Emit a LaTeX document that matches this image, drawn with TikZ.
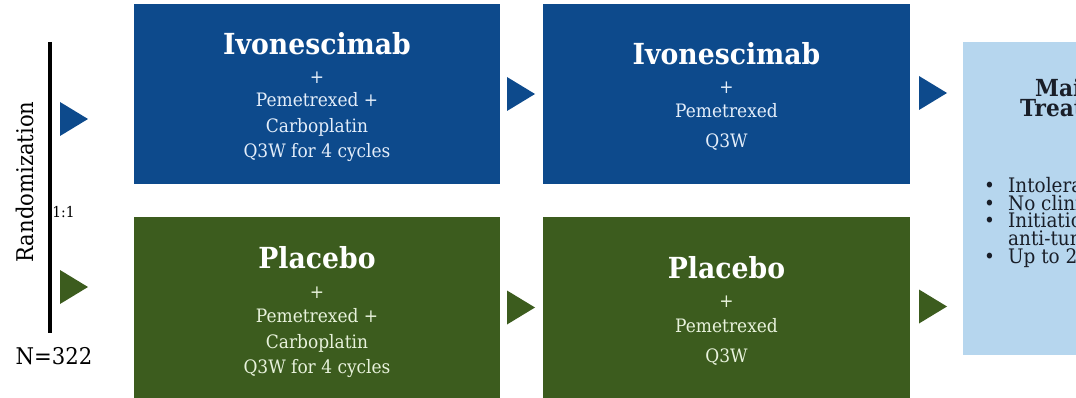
\documentclass[tikz,border=0pt]{standalone}
\usepackage{fontspec}
\setmainfont{DejaVu Serif}[FakeStretch=0.92]
\usetikzlibrary{calc}
\definecolor{ivblue}{RGB}{13,74,140}
\definecolor{ivgreen}{RGB}{60,92,30}
\definecolor{ltblue}{RGB}{182,214,238}
\definecolor{bodyB}{RGB}{228,238,250}
\definecolor{bodyG}{RGB}{232,242,220}
\definecolor{darktext}{RGB}{25,30,40}
\newcommand\armtri[2]{\fill[#1] ($(#2)+(0,-17)$) -- ($(#2)+(28,0)$) -- ($(#2)+(0,17)$) -- cycle;}
\begin{document}
\begin{tikzpicture}[x=1pt,y=-1pt,
  armbox/.style={minimum width=#1, inner sep=0pt, outer sep=0pt, anchor=north west},
  ttl/.style={font=\bfseries\fontsize{29}{32}\selectfont, text=white, anchor=base, inner sep=0pt},
  bodyb/.style={font=\fontsize{18.5}{20}\selectfont, text=bodyB, anchor=base, inner sep=0pt},
  bodyg/.style={font=\fontsize{18.5}{20}\selectfont, text=bodyG, anchor=base, inner sep=0pt},
  rtxt/.style={font=\fontsize{20}{18}\selectfont, text=darktext, anchor=base west, inner sep=0pt, text height=12.5pt, text depth=3.5pt},
  rhead/.style={font=\bfseries\fontsize{23.5}{22}\selectfont, text=darktext, anchor=base west, inner sep=0pt, text height=14.5pt, text depth=4pt}]
\useasboundingbox (0,0) rectangle (1076,398);
\begin{scope}
\clip (0,0) rectangle (1076,398);
% randomization bar
\coordinate (rtop) at (50,42);
\coordinate (rbot) at (50,333);
\draw[line width=3.5pt] (rtop) -- (rbot);
\node[rotate=90, font=\fontsize{23}{24}\selectfont, inner sep=0pt] (rand) at (25,182) {Randomization};
\node[font=\fontsize{15}{16}\selectfont, inner sep=0pt] (ratio) at (63.5,212) {1:1};
\node[font=\fontsize{23}{24}\selectfont, inner sep=0pt] (n) at (54,356) {N=322};
\coordinate (lt1) at (60,119);
\coordinate (lt2) at (60,287);
\armtri{ivblue}{lt1}
\armtri{ivgreen}{lt2}
% boxes
\node[armbox=366pt, minimum height=180pt, fill=ivblue] (b1) at (134,4) {};
\node[armbox=366pt, minimum height=181pt, fill=ivgreen] (g1) at (134,217) {};
\node[armbox=367pt, minimum height=180pt, fill=ivblue] (b2) at (543,4) {};
\node[armbox=367pt, minimum height=181pt, fill=ivgreen] (g2) at (543,217) {};
\node[armbox=400pt, minimum height=313pt, fill=ltblue] (m) at (963,42) {};
% connectors (arrowheads)
\coordinate (a1) at ($(b1.east)+(7,0)$);
\coordinate (a2) at ($(g1.east)+(7,0)$);
\coordinate (a3) at ($(b2.east)+(9,-1)$);
\coordinate (a4) at ($(g2.east)+(9,-1)$);
\armtri{ivblue}{a1}
\armtri{ivgreen}{a2}
\armtri{ivblue}{a3}
\armtri{ivgreen}{a4}
% box 1 text
\node[ttl] (b1t) at (317,55) {Ivonescimab};
\node[bodyb] (b1p) at (317,84) {+};
\node[bodyb] (b1l1) at (317,107) {Pemetrexed +};
\node[bodyb] (b1l2) at (317,133) {Carboplatin};
\node[bodyb] (b1l3) at (317,158) {Q3W for 4 cycles};
% green 1 text
\node[ttl] (g1t) at (317,268) {Placebo};
\node[bodyg] (g1p) at (317,298) {+};
\node[bodyg] (g1l1) at (317,322) {Pemetrexed +};
\node[bodyg] (g1l2) at (317,348) {Carboplatin};
\node[bodyg] (g1l3) at (317,373) {Q3W for 4 cycles};
% box 2 text
\node[ttl] (b2t) at (726.5,65) {Ivonescimab};
\node[bodyb] (b2p) at (726.5,94) {+};
\node[bodyb] (b2l1) at (726.5,118) {Pemetrexed};
\node[bodyb] (b2l2) at (726.5,148) {Q3W};
% green 2 text
\node[ttl] (g2t) at (726.5,278) {Placebo};
\node[bodyg] (g2p) at (726.5,307) {+};
\node[bodyg] (g2l1) at (726.5,332) {Pemetrexed};
\node[bodyg] (g2l2) at (726.5,362) {Q3W};
% maintenance box text
\node[rhead] (mh1) at (1035,97) {Maintenance};
\node[rhead] (mh2) at (1020,117) {Treatment until:};
\node[rtxt] (mb1) at (984,193) {•};
\node[rtxt] (mi1) at (1008,193) {Intolerable toxicity};
\node[rtxt] (mb2) at (984,210.5) {•};
\node[rtxt] (mi2) at (1008,210.5) {No clinical benefit};
\node[rtxt] (mb3) at (984,228) {•};
\node[rtxt] (mi3) at (1008,228) {Initiation of new};
\node[rtxt] (mi3b) at (1008,245.5) {anti-tumor therapy};
\node[rtxt] (mb4) at (984,263) {•};
\node[rtxt] (mi4) at (1008,263) {Up to 2 years};
\end{scope}
\end{tikzpicture}
\end{document}
